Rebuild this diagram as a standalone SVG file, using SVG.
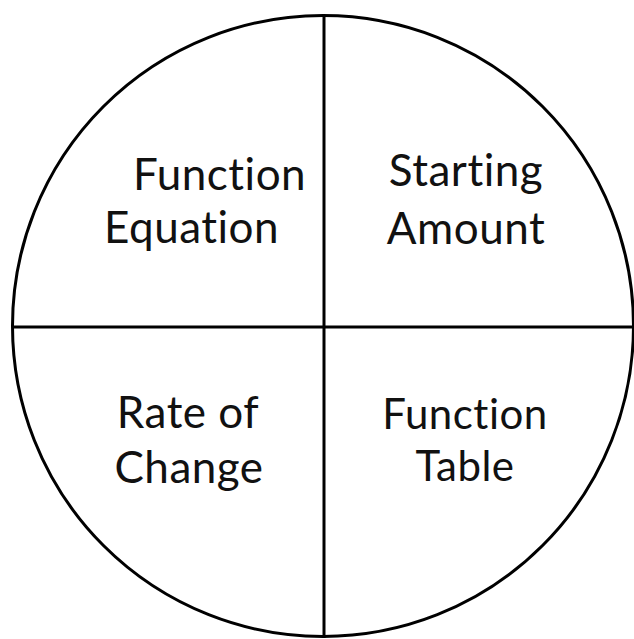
<svg xmlns="http://www.w3.org/2000/svg" width="634" height="639" viewBox="0 0 634 639">
<style>
.ln{stroke:#000;stroke-width:3;fill:none}
.t{font-family:Lato,"Open Sans",sans-serif;font-size:44px;letter-spacing:0.5px;font-variant-ligatures:none;fill:#111}
.m{text-anchor:middle}
.s{font-size:42px}
</style>
<rect width="634" height="639" fill="#fff"/>
<g id="connectors">
<circle class="ln" cx="323" cy="326" r="310.5"/>
<line class="ln" x1="324" y1="15" x2="324" y2="638"/>
<line class="ln" x1="12" y1="327" x2="634" y2="327"/>
</g>
<g id="q1"><text class="t" x="133" y="190">Function</text><text class="t" x="104" y="243">Equation</text></g>
<g id="q2"><text class="t m" x="466" y="186">Starting</text><text class="t m" x="466" y="244">Amount</text></g>
<g id="q3"><text class="t m" x="188" y="428">Rate of</text><text class="t m" x="189" y="483">Change</text></g>
<g id="q4"><text class="t m s" x="465" y="429">Function</text><text class="t m s" x="465" y="481">Table</text></g>
</svg>
